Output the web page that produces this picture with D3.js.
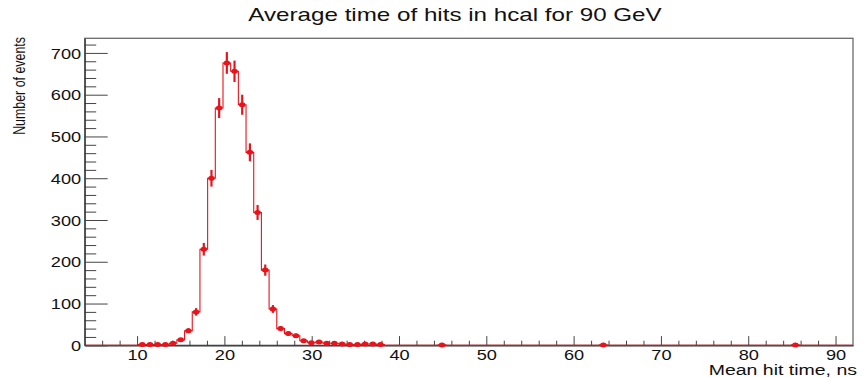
<!DOCTYPE html>
<html>
<head>
<meta charset="utf-8">
<script src="https://cdn.jsdelivr.net/npm/d3@7"></script>
<style>
  body { margin: 0; background: #fff; }
  svg { display: block; font-family: "Liberation Sans", Arial, Helvetica, sans-serif; }
</style>
</head>
<body>
<svg id="chart" width="867" height="377"></svg>
<script>
// histogram range and binning (ns)
const xRange = [4, 92];
const nBins = 100;
// entries per bin
const counts = [
  0, 0, 0, 0, 0, 0, 0, 2, 2, 2,
  2, 5, 13, 35, 80, 230, 400, 568, 676, 656,
  576, 462, 318, 180, 87, 40, 28, 23, 11, 6,
  8, 5, 5, 3, 2, 2, 3, 3, 2, 0,
  0, 0, 0, 0, 0, 0, 1, 0, 0, 0,
  0, 0, 0, 0, 0, 0, 0, 0, 0, 0,
  0, 0, 0, 0, 0, 0, 0, 1, 0, 0,
  0, 0, 0, 0, 0, 0, 0, 0, 0, 0,
  0, 0, 0, 0, 0, 0, 0, 0, 0, 0,
  0, 0, 1, 0, 0, 0, 0, 0, 0, 0
];
const yMax = 735;
const xMajorTicks = [10, 20, 30, 40, 50, 60, 70, 80, 90];
const yMajorTicks = [0, 100, 200, 300, 400, 500, 600, 700];
const titleText = "Average time of hits in hcal for 90 GeV";
const xLabel = "Mean hit time, ns";
const yLabel = "Number of events";

const red = "#e8141b";
const stretch = 1.3; // picture is wider than tall, text is stretched

const frame = { left: 84.7, right: 853, top: 38.3, bottom: 345.3 };

const svg = d3.select("#chart");

const x = d3.scaleLinear().domain(xRange).range([frame.left, frame.right]);
const y = d3.scaleLinear().domain([0, yMax]).range([frame.bottom, frame.top]);

const binW = (xRange[1] - xRange[0]) / nBins;
const bins = counts.map((c, i) => ({
  lo: xRange[0] + i * binW,
  hi: xRange[0] + (i + 1) * binW,
  mid: xRange[0] + (i + 0.5) * binW,
  c: c
}));

// frame
svg.append("rect")
  .attr("x", frame.left).attr("y", frame.top)
  .attr("width", frame.right - frame.left)
  .attr("height", frame.bottom - frame.top)
  .attr("fill", "none")
  .attr("stroke", "#6b6b6b")
  .attr("stroke-width", 1.3);

// minor ticks
const xMinor = d3.range(6, 92, 2).filter(v => v % 10 !== 0);
const yMinor = d3.range(20, yMax, 20).filter(v => v % 100 !== 0);

svg.append("g")
  .attr("transform", `translate(0,${frame.bottom})`)
  .call(d3.axisBottom(x).tickValues(xMinor).tickSize(-4.6).tickSizeOuter(0).tickFormat(""))
  .call(g => g.select(".domain").remove())
  .selectAll("line").attr("stroke", "#444");

svg.append("g")
  .attr("transform", `translate(${frame.left},0)`)
  .call(d3.axisLeft(y).tickValues(yMinor).tickSize(-11.5).tickSizeOuter(0).tickFormat(""))
  .call(g => g.select(".domain").remove())
  .selectAll("line").attr("stroke", "#444");

// major ticks + labels
const xAxis = svg.append("g")
  .attr("transform", `translate(0,${frame.bottom})`)
  .call(d3.axisBottom(x).tickValues(xMajorTicks).tickSize(-9.2).tickSizeOuter(0).tickPadding(4.5));
xAxis.select(".domain").attr("stroke", "#333").attr("stroke-width", 1.2);
xAxis.selectAll(".tick line").attr("stroke", "#444");
xAxis.selectAll(".tick text")
  .attr("fill", "#111")
  .attr("font-size", 14)
  .attr("font-family", "Liberation Sans, Arial, sans-serif")
  .attr("transform", `scale(${stretch},1)`);

const yAxis = svg.append("g")
  .attr("transform", `translate(${frame.left},0)`)
  .call(d3.axisLeft(y).tickValues(yMajorTicks).tickSize(-23).tickSizeOuter(0).tickPadding(2.7));
yAxis.select(".domain").attr("stroke", "#333").attr("stroke-width", 1.2);
yAxis.selectAll(".tick line").attr("stroke", "#444");
yAxis.selectAll(".tick text")
  .attr("fill", "#111")
  .attr("font-size", 14)
  .attr("font-family", "Liberation Sans, Arial, sans-serif")
  .attr("dy", "0.37em")
  .attr("transform", `scale(${stretch},1)`);

// histogram outline
const pts = [];
bins.forEach(b => { pts.push([b.lo, b.c]); pts.push([b.hi, b.c]); });
svg.append("path")
  .datum(pts)
  .attr("fill", "none")
  .attr("stroke", red)
  .attr("stroke-width", 1.1)
  .attr("d", d3.line().x(d => x(d[0])).y(d => y(d[1])));

// error bars and markers
const filled = bins.filter(b => b.c > 0);
svg.append("g").selectAll("line")
  .data(filled)
  .join("line")
  .attr("x1", d => x(d.mid)).attr("x2", d => x(d.mid))
  .attr("y1", d => y(d.c - Math.sqrt(d.c)))
  .attr("y2", d => y(d.c + Math.sqrt(d.c)))
  .attr("stroke", red)
  .attr("stroke-width", 2.2);

svg.append("g").selectAll("ellipse")
  .data(filled)
  .join("ellipse")
  .attr("cx", d => x(d.mid))
  .attr("cy", d => y(d.c))
  .attr("rx", 3.3)
  .attr("ry", 2.5)
  .attr("fill", red);

// texts
svg.append("text")
  .attr("transform", `translate(455,21) scale(${stretch},1)`)
  .attr("text-anchor", "middle")
  .attr("font-size", 18.6)
  .attr("fill", "#111")
  .text(titleText);

svg.append("text")
  .attr("transform", `translate(857,375) scale(${stretch},1)`)
  .attr("text-anchor", "end")
  .attr("font-size", 15)
  .attr("fill", "#111")
  .text(xLabel);

svg.append("text")
  .attr("transform", `translate(25,37) scale(${stretch},1) rotate(-90)`)
  .attr("text-anchor", "end")
  .attr("font-size", 12.4)
  .attr("fill", "#111")
  .text(yLabel);
</script>
</body>
</html>
